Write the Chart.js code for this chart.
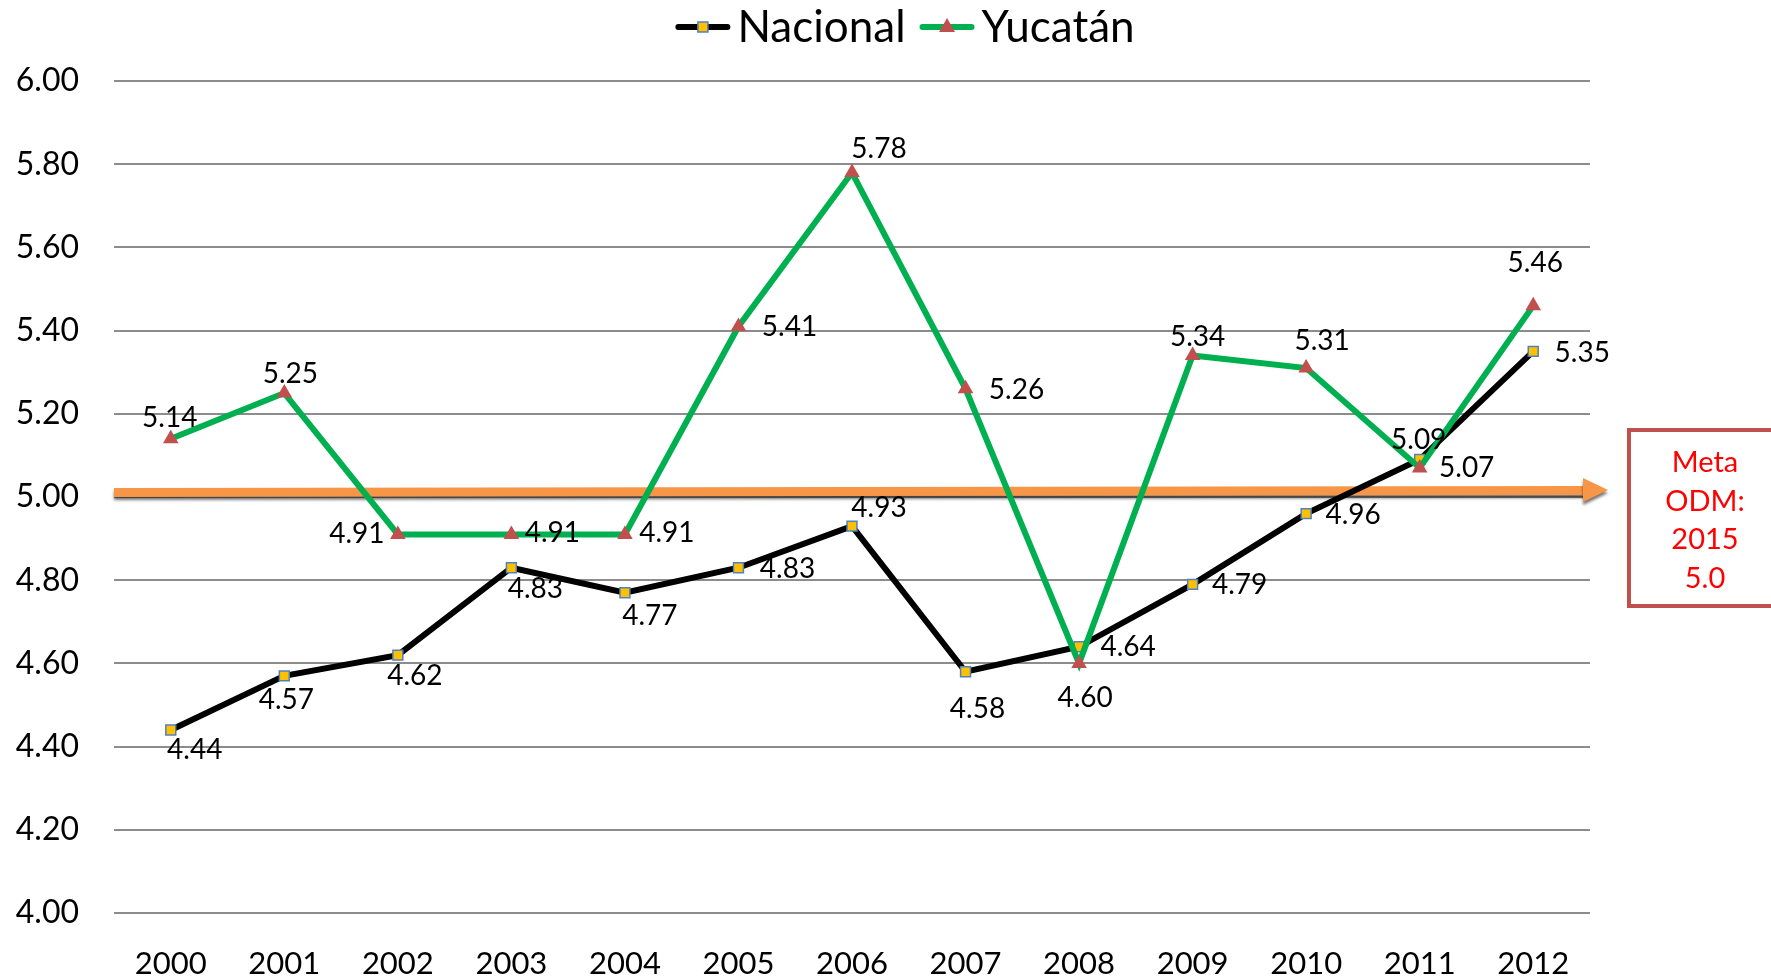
<!DOCTYPE html>
<html>
<head>
<meta charset="utf-8">
<script src="https://cdn.jsdelivr.net/npm/chart.js@4/dist/chart.umd.min.js"></script>
<style>
  html, body { margin: 0; padding: 0; background: #fff; }
  #wrap { width: 1771px; height: 977px; }
</style>
</head>
<body>
<div id="wrap"><canvas id="chart" width="1771" height="977"></canvas></div>
<script>
// Data
const years = ['2000', '2001', '2002', '2003', '2004', '2005', '2006', '2007', '2008', '2009', '2010', '2011', '2012'];
const nacional = [4.44, 4.57, 4.62, 4.83, 4.77, 4.83, 4.93, 4.58, 4.64, 4.79, 4.96, 5.09, 5.35];
const yucatan = [5.14, 5.25, 4.91, 4.91, 4.91, 5.41, 5.78, 5.26, 4.60, 5.34, 5.31, 5.07, 5.46];
const metaValue = 5.0;
const metaText = ['Meta', 'ODM:', '2015', '5.0'];

// where each value label sits relative to its point (px)
const nacionalLabelOffset = [[24, 20], [2, 24], [17, 21], [24, 21], [25, 23], [49, 1], [27, -18], [12, 37], [49, 0], [47, 1], [47, 1], [-1, -20], [49, 2]];
const yucatanLabelOffset = [[-1, -21], [6, -19], [-41, 0], [41, -1], [42, -1], [51, 1], [27, -24], [51, 1], [6, 35], [5, -19], [16, -27], [47, 0], [2, -43]];

const FONT = 'Lato, "Open Sans", sans-serif';

function drawSquare(g, x, y) {
  g.fillStyle = '#FFC000'; g.fillRect(x - 5, y - 5, 10, 10);
  g.strokeStyle = '#4F81BD'; g.lineWidth = 1.5; g.strokeRect(x - 5, y - 5, 10, 10);
}
function drawTriangle(g, x, y) {
  g.fillStyle = '#C0504D';
  g.beginPath(); g.moveTo(x, y - 9); g.lineTo(x + 8, y + 5); g.lineTo(x - 8, y + 5); g.closePath(); g.fill();
}

// legend drawn by hand: line + marker, then the name
const legendPlugin = {
  id: 'lineLegend',
  afterDraw(chart) {
    const {ctx} = chart;
    const items = [
      {text: 'Nacional', color: '#000000', marker: drawSquare},
      {text: 'Yucatán', color: '#00B050', marker: drawTriangle}
    ];
    const lineLen = 55, textGap = 7, itemGap = 14, cy = 27, centerX = 905;
    ctx.save();
    ctx.font = '44px ' + FONT;
    const widths = items.map(it => ctx.measureText(it.text).width);
    const total = widths.reduce((a, w) => a + lineLen + textGap + w, 0) + itemGap;
    let x = centerX - total / 2;
    items.forEach((it, i) => {
      ctx.strokeStyle = it.color;
      ctx.lineWidth = 6;
      ctx.lineCap = 'round';
      ctx.beginPath(); ctx.moveTo(x + 3, cy); ctx.lineTo(x + lineLen - 3, cy); ctx.stroke();
      it.marker(ctx, x + lineLen / 2, cy);
      ctx.fillStyle = '#000';
      ctx.textAlign = 'left';
      ctx.textBaseline = 'middle';
      ctx.font = '44px ' + FONT;
      ctx.fillText(it.text, x + lineLen + textGap, cy + 1);
      x += lineLen + textGap + widths[i] + itemGap;
    });
    ctx.restore();
  }
};

// orange goal arrow + Meta box
const metaPlugin = {
  id: 'meta',
  beforeDatasetsDraw(chart) {
    const {ctx, chartArea, scales} = chart;
    const y = scales.y.getPixelForValue(metaValue);
    const x0 = chartArea.left, xh = chartArea.right - 7, xt = chartArea.right + 18;
    ctx.save();
    ctx.shadowColor = 'rgba(0,0,0,0.55)';
    ctx.shadowOffsetY = 3;
    ctx.shadowBlur = 3;
    ctx.fillStyle = '#F79646';
    ctx.beginPath();
    ctx.moveTo(x0, y - 9);
    ctx.lineTo(xh + 1, y - 11);
    ctx.lineTo(xh + 1, y - 2);
    ctx.lineTo(x0, y);
    ctx.closePath();
    ctx.fill();
    ctx.beginPath();
    ctx.moveTo(xh, y - 19);
    ctx.lineTo(xt, y - 7);
    ctx.lineTo(xh, y + 5);
    ctx.closePath();
    ctx.fill();
    ctx.restore();
  },
  afterDraw(chart) {
    const {ctx, chartArea} = chart;
    const bx = chartArea.right + 39, by = 430, bw = 160, bh = 176;
    ctx.save();
    ctx.fillStyle = '#fff';
    ctx.fillRect(bx, by, bw, bh);
    ctx.strokeStyle = '#C0504D';
    ctx.lineWidth = 4;
    ctx.strokeRect(bx, by, bw, bh);
    ctx.fillStyle = '#FF0000';
    ctx.font = '29px ' + FONT;
    ctx.textAlign = 'center';
    ctx.textBaseline = 'middle';
    metaText.forEach((t, i) => ctx.fillText(t, bx + 76, by + 33 + i * 38.5));
    ctx.restore();
  }
};

// value labels
const labelPlugin = {
  id: 'valueLabels',
  afterDatasetsDraw(chart) {
    const {ctx} = chart;
    const offsets = [nacionalLabelOffset, yucatanLabelOffset];
    ctx.save();
    ctx.font = '28px ' + FONT;
    ctx.fillStyle = '#000';
    ctx.textAlign = 'center';
    ctx.textBaseline = 'middle';
    chart.data.datasets.forEach((ds, di) => {
      const meta = chart.getDatasetMeta(di);
      meta.data.forEach((pt, i) => {
        const [dx, dy] = offsets[di][i];
        ctx.fillText(ds.data[i].toFixed(2), pt.x + dx, pt.y + dy);
      });
    });
    ctx.restore();
  }
};

new Chart(document.getElementById('chart').getContext('2d'), {
  type: 'line',
  data: {
    labels: years,
    datasets: [{
      label: 'Nacional',
      data: nacional,
      borderColor: '#000000',
      borderWidth: 6,
      pointStyle: 'rect',
      pointRadius: 7,
      pointBackgroundColor: '#FFC000',
      pointBorderColor: '#4F81BD',
      pointBorderWidth: 1.5,
      tension: 0,
      order: 1
    }, {
      label: 'Yucatán',
      data: yucatan,
      borderColor: '#00B050',
      borderWidth: 6,
      pointStyle: 'triangle',
      pointRadius: 9,
      pointBackgroundColor: '#C0504D',
      pointBorderColor: '#C0504D',
      pointBorderWidth: 0,
      tension: 0,
      order: 0
    }]
  },
  options: {
    responsive: false,
    animation: false,
    layout: { padding: { left: 14, right: 181, top: 81, bottom: 2 } },
    plugins: {
      tooltip: { enabled: false },
      legend: { display: false }
    },
    scales: {
      x: {
        offset: true,
        afterFit: (s) => { s.height = 62; },
        grid: { display: false },
        border: { display: false },
        ticks: { color: '#000', padding: 24, maxRotation: 0, font: { family: FONT, size: 31 } }
      },
      y: {
        min: 4,
        max: 6,
        afterFit: (s) => { s.width = 100; },
        border: { display: false },
        grid: { color: '#8C8C8C', lineWidth: 2, drawTicks: false },
        ticks: {
          stepSize: 0.2,
          color: '#000',
          padding: 35,
          font: { family: FONT, size: 32 },
          callback: (v) => Number(v).toFixed(2)
        }
      }
    }
  },
  plugins: [metaPlugin, labelPlugin, legendPlugin]
});
</script>
</body>
</html>
